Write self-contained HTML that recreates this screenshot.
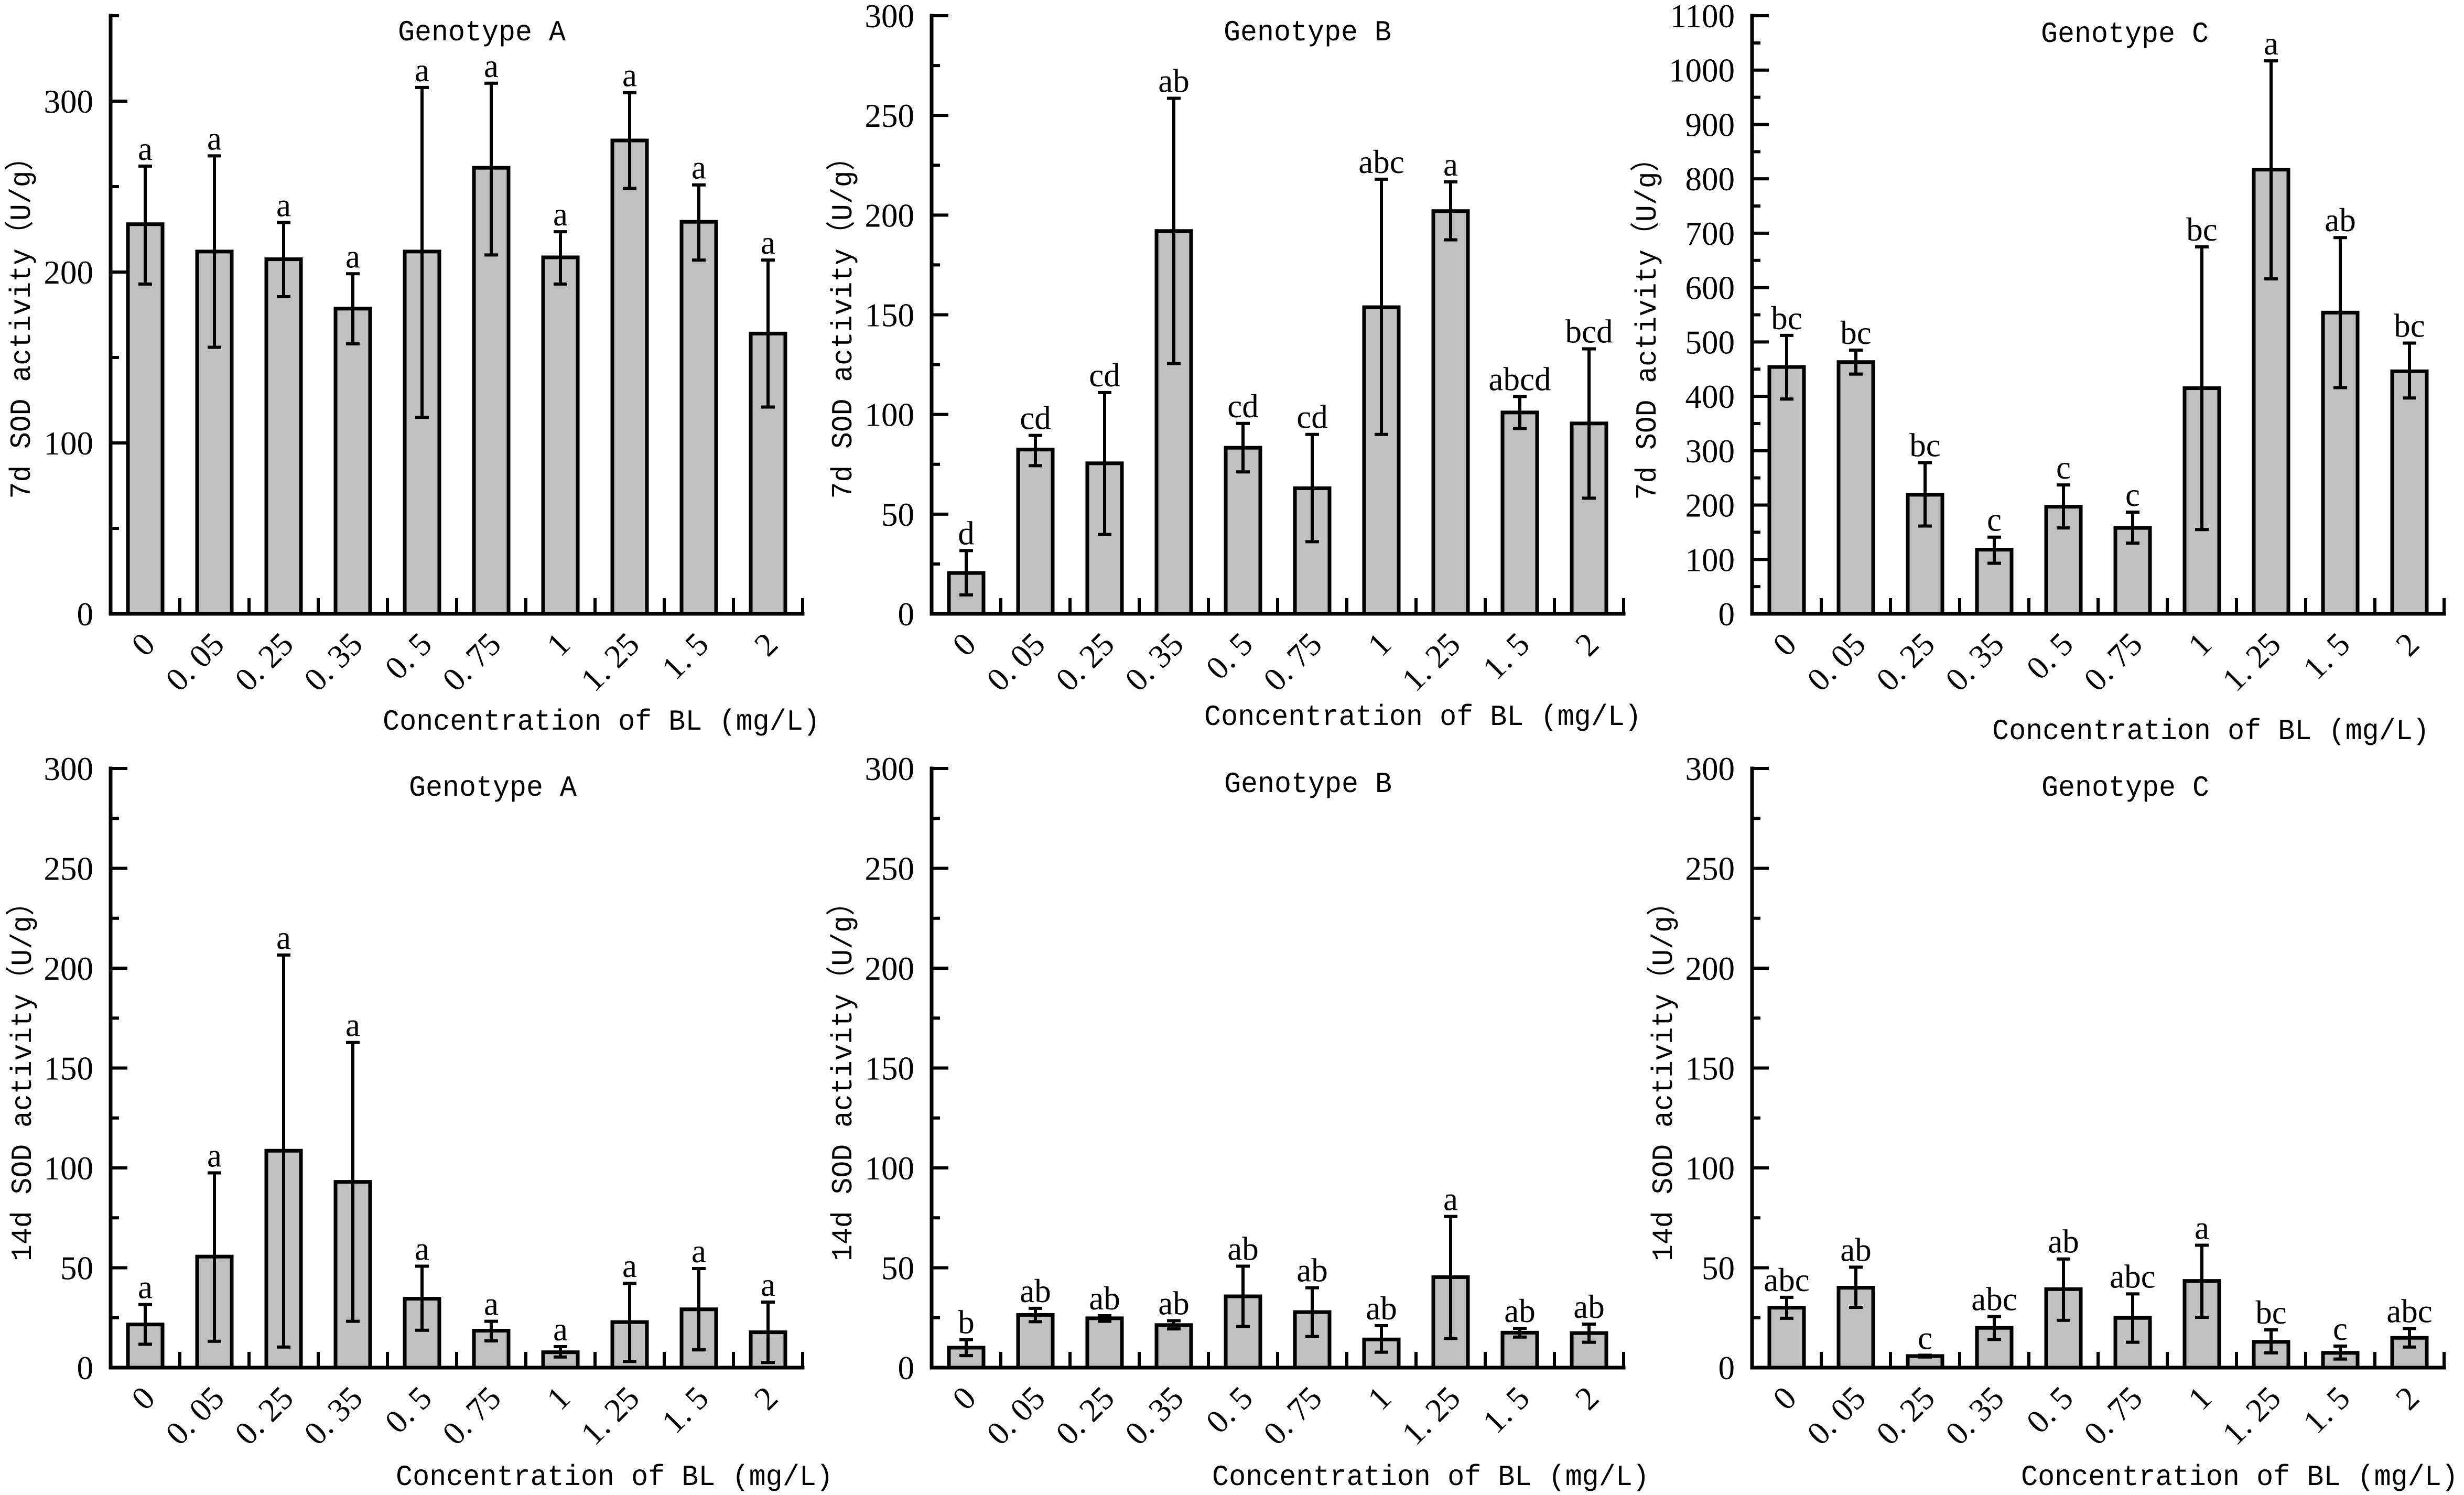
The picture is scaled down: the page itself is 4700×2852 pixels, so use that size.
<!DOCTYPE html>
<html><head><meta charset="utf-8"><style>
html,body{margin:0;padding:0;background:#fff;}
svg{display:block;}
.tk{font-family:"Liberation Serif",serif;font-size:63px;fill:#000;}
.mono{font-family:"Liberation Mono","Noto Sans CJK SC",monospace;font-size:56px;fill:#000;}
</style></head><body>
<svg id="fig" width="4700" height="2852" viewBox="0 0 4700 2852" xmlns="http://www.w3.org/2000/svg"></svg>
<script>
const categories = ['0','0.05','0.25','0.35','0.5','0.75','1','1.25','1.5','2'];

const d7A_mean = [228,212,207.5,178.6,212,261,208.6,277,229.4,164];
const d7A_hi   = [262,268,229,199,308,310.5,223.6,305,251,207];
const d7A_lo   = [193,156,185.6,158,115,210,193,249,207,121];
const d7A_let  = ['a','a','a','a','a','a','a','a','a','a'];

const d7B_mean = [20.5,82.4,75.5,192,83.3,63,153.8,202,101,95.5];
const d7B_hi   = [31.7,89.5,111,258.6,95.5,90,218,216.7,109,132.9];
const d7B_lo   = [9.5,74.3,39.8,125.5,71.2,36.2,90,187.6,92.9,58];
const d7B_let  = ['d','cd','cd','ab','cd','cd','abc','a','abcd','bcd'];

const d7C_mean = [454,463,219,118,197,158,415,817,554,446];
const d7C_hi   = [512,485,278,141,237,187,675,1017,692,498];
const d7C_lo   = [395,441,161.5,93,158,130,155,616,416,397];
const d7C_let  = ['bc','bc','bc','c','c','c','bc','a','ab','bc'];

const d14A_mean = [21.6,55.6,108.6,93,34.5,18.5,7.7,22.8,29.2,17.7];
const d14A_hi   = [31.6,97.5,206.6,162.8,50.8,23.2,10.5,42.2,49.6,32.8];
const d14A_lo   = [11.7,13.2,10.3,23.2,18.7,13.4,5.3,3.1,8.9,2.6];
const d14A_let  = ['a','a','a','a','a','a','a','a','a','a'];

const d14B_mean = [10,26.4,24.7,21.3,35.7,27.8,14.1,45.3,17.5,17.3];
const d14B_hi   = [14,29.7,26,23.5,50.8,40,21,75.7,19.7,21.8];
const d14B_lo   = [6,23,23.2,19.4,20.6,15.6,7.7,14.6,15.3,12.7];
const d14B_let  = ['b','ab','ab','ab','ab','ab','ab','a','ab','ab'];

const d14C_mean = [30,40,5.8,19.9,39.3,24.9,43.4,12.9,7.4,14.9];
const d14C_hi   = [35.2,50.3,6.2,25.6,54.4,36.9,61.3,18.9,10.8,19.6];
const d14C_lo   = [24.7,30.2,5.3,14.1,23.7,12.7,25.2,7.4,4.3,10.3];
const d14C_let  = ['abc','ab','c','abc','ab','abc','a','bc','c','abc'];

const NS = 'http://www.w3.org/2000/svg';
const svg = document.getElementById('fig');
function mk(tag, attrs, parent, txt){
  const e = document.createElementNS(NS, tag);
  for (const k in attrs) e.setAttribute(k, attrs[k]);
  if (txt !== undefined) e.textContent = txt;
  (parent||svg).appendChild(e);
  return e;
}

const panels = [
 {id:'7d-a', ax:211, top:30, zero:1171, max:350, major:100, minor:50, mean:d7A_mean, hi:d7A_hi, lo:d7A_lo, let:d7A_let, ylab:'7d SOD activity\uFF08U/g\uFF09', ylx:39, ylc:612, title:'Genotype A', tx:919, ty:77, xtx:730, xty:1392},
 {id:'7d-b', ax:1777, top:30, zero:1171, max:300, major:50, minor:25, mean:d7B_mean, hi:d7B_hi, lo:d7B_lo, let:d7B_let, ylab:'7d SOD activity\uFF08U/g\uFF09', ylx:1606, ylc:612, title:'Genotype B', tx:2494, ty:77, xtx:2297, xty:1383},
 {id:'7d-c', ax:3342, top:30, zero:1171, max:1100, major:100, minor:50, mean:d7C_mean, hi:d7C_hi, lo:d7C_lo, let:d7C_let, ylab:'7d SOD activity\uFF08U/g\uFF09', ylx:3140, ylc:614, title:'Genotype C', tx:4053, ty:80, xtx:3800, xty:1410},
 {id:'14d-a', ax:211, top:1466, zero:2609, max:300, major:50, minor:25, mean:d14A_mean, hi:d14A_hi, lo:d14A_lo, let:d14A_let, ylab:'14d SOD activity\uFF08U/g\uFF09', ylx:41, ylc:2050, title:'Genotype A', tx:940, ty:1518, xtx:755, xty:2833},
 {id:'14d-b', ax:1777, top:1466, zero:2609, max:300, major:50, minor:25, mean:d14B_mean, hi:d14B_hi, lo:d14B_lo, let:d14B_let, ylab:'14d SOD activity\uFF08U/g\uFF09', ylx:1606, ylc:2050, title:'Genotype B', tx:2495, ty:1511, xtx:2312, xty:2833},
 {id:'14d-c', ax:3342, top:1466, zero:2609, max:300, major:50, minor:25, mean:d14C_mean, hi:d14C_hi, lo:d14C_lo, let:d14C_let, ylab:'14d SOD activity\uFF08U/g\uFF09', ylx:3171, ylc:2050, title:'Genotype C', tx:4054, ty:1518, xtx:3855, xty:2833}
];

const W = 1320;
panels.forEach(p => {
  const g = mk('g', {});
  
  
  const y = v => p.zero - (v / p.max) * (p.zero - p.top);
  const step = W / categories.length;
  const xc = i => p.ax + step * (i + 0.5);

  categories.forEach((c, i) => {
    const yt = y(p.mean[i]);
    const bar = mk('rect', {x: xc(i) - 33, y: yt, width: 66, height: p.zero - yt, fill: '#c0c0c0', stroke: '#000', 'stroke-width': 7}, g);
    
    
    const eb = mk('path', {d: `M${xc(i)} ${y(p.hi[i])}V${y(p.lo[i])}M${xc(i)-13} ${y(p.hi[i])}H${xc(i)+13}M${xc(i)-13} ${y(p.lo[i])}H${xc(i)+13}`, stroke: '#000', 'stroke-width': 6, fill: 'none'}, g);
    
    
    const lt = mk('text', {x: xc(i), y: y(p.hi[i]) - 12, 'text-anchor': 'middle', class: 'tk'}, g, p.let[i]);
    
    
    const lbl = c.replace('.', '. ');
    const xl = mk('text', {x: 0, y: 0, 'text-anchor': 'end', class: 'tk', transform: `translate(${xc(i)+22},${p.zero+62}) rotate(-45)`}, g, lbl);
    
    
  });

  const axes = mk('path', {d: `M${p.ax} ${p.top}V${p.zero}H${p.ax + W}`, stroke: '#000', 'stroke-width': 7, fill: 'none', 'stroke-linecap': 'square'}, g);
  
  
  let xt = '';
  for (let i = 1; i <= categories.length; i++) { const xx = p.ax + step * i; xt += `M${xx} ${p.zero}V${p.zero - 30}`; }
  const xtk = mk('path', {d: xt, stroke: '#000', 'stroke-width': 6}, g);
  
  

  let yt = '';
  for (let v = 0; v <= p.max + 0.001; v += p.minor) {
    const isMajor = Math.abs(v / p.major - Math.round(v / p.major)) < 1e-6;
    yt += `M${p.ax} ${y(v)}H${p.ax + (isMajor ? 32 : 16)}`;
    if (isMajor) {
      const t = mk('text', {x: p.ax - 33, y: y(v) + 22, 'text-anchor': 'end', class: 'tk'}, g, String(v));
      
      
    }
  }
  const ytk = mk('path', {d: yt, stroke: '#000', 'stroke-width': 6}, g);
  
  

  const title = mk('text', {x: p.tx, y: p.ty, 'text-anchor': 'middle', class: 'mono', textLength: 320, lengthAdjust: 'spacingAndGlyphs'}, g, p.title);
  
  

  const xtitle = mk('text', {x: p.xtx, y: p.xty, class: 'mono', textLength: 834, lengthAdjust: 'spacingAndGlyphs'}, g, 'Concentration of BL (mg/L)');
  
  

  const ylen = p.ylab.startsWith('14') ? 712 : 679;
  const ytitle = mk('text', {x: 0, y: 0, 'text-anchor': 'middle', class: 'mono', textLength: ylen, lengthAdjust: 'spacingAndGlyphs', transform: `translate(${p.ylx + 18},${p.ylc}) rotate(-90)`}, g, p.ylab);
  
  
});
</script>
</body></html>
